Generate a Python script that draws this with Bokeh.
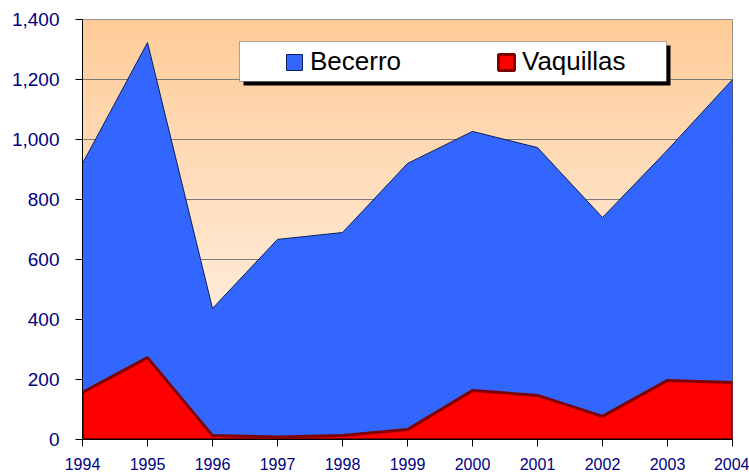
import numpy as np
from bokeh.plotting import figure
from bokeh.models import (FixedTicker, NumeralTickFormatter, Range1d, Legend, LegendItem,
                          BoxAnnotation)
from bokeh.embed import file_html
from bokeh.resources import INLINE

years = [1994, 1995, 1996, 1997, 1998, 1999, 2000, 2001, 2002, 2003, 2004]
becerro = [920, 1323, 437, 667, 690, 920, 1027, 973, 740, 965, 1200]
vaquillas = [157, 273, 13, 8, 13, 33, 163, 147, 77, 197, 190]
y_ticks = [0, 200, 400, 600, 800, 1000, 1200, 1400]

FONT = "Liberation Sans"
NAVY = "#000080"

p = figure(width=749, height=476, output_backend="svg", toolbar_location=None,
           x_range=Range1d(years[0], years[-1]), y_range=Range1d(0, 1400),
           min_border_left=82, min_border_right=17, min_border_top=19, min_border_bottom=37)
p.border_fill_color = "white"
p.outline_line_color = "#808080"
p.outline_line_width = 1

# gradient background (peach at top -> white at bottom)
n = 256
t = np.linspace(0, 1, n)[:, None]  # row 0 = bottom
top = np.array([255, 204, 153])
bot = np.array([255, 250, 245])
rgb = (bot + (top - bot) * t).astype(np.uint32)
img = np.zeros((n, 1), dtype=np.uint32)
view = img.view(dtype=np.uint8).reshape((n, 1, 4))
view[:, 0, 0] = rgb[:, 0]
view[:, 0, 1] = rgb[:, 1]
view[:, 0, 2] = rgb[:, 2]
view[:, 0, 3] = 255
bg = p.image_rgba(image=[img], x=years[0], y=0, dw=years[-1] - years[0], dh=1400)
bg.level = "image"

# areas
xs = list(years) + [years[-1], years[0]]
b = p.patch(xs, list(becerro) + [0, 0], fill_color="#3366FF", line_color="#0A1F5C", line_width=1)
v = p.patch(xs, list(vaquillas) + [0, 0], fill_color="#FF0000", line_color="#800000", line_width=3)

# axes
p.xaxis.ticker = FixedTicker(ticks=years)
p.yaxis.ticker = FixedTicker(ticks=y_ticks)
p.yaxis.formatter = NumeralTickFormatter(format="0,0")
for ax in (p.xaxis, p.yaxis):
    ax.axis_line_color = "black"
    ax.axis_line_width = 1
    ax.major_tick_line_color = "black"
    ax.major_tick_in = 0
    ax.major_tick_out = 7
    ax.minor_tick_line_color = None
    ax.major_label_text_font = FONT
    ax.major_label_text_color = NAVY
p.yaxis.major_label_text_font_size = "19px"
p.yaxis.major_label_standoff = 16
p.xaxis.major_label_text_font_size = "16px"
p.xaxis.major_label_standoff = 11

p.xgrid.grid_line_color = None
p.ygrid.grid_line_color = "#7a7a7a"
p.ygrid.grid_line_width = 1
p.ygrid.ticker = FixedTicker(ticks=y_ticks)

# legend box with shadow
px_per_year = 650 / 10.0
px_per_unit = 420 / 1400.0
def fx(px):
    return years[0] + px / px_per_year
def fy(py):
    return (420 - py) / px_per_unit
shadow = BoxAnnotation(left=fx(161), right=fx(588), top=fy(26), bottom=fy(66),
                       fill_color="black", fill_alpha=1, line_color=None, level="annotation")
box = BoxAnnotation(left=fx(157), right=fx(584), top=fy(22), bottom=fy(62),
                    fill_color="white", fill_alpha=1, line_color="black", line_width=1, level="annotation")
p.add_layout(shadow)
p.add_layout(box)

legend = Legend(items=[LegendItem(label="Becerro", renderers=[b]),
                       LegendItem(label="Vaquillas", renderers=[v])],
                orientation="horizontal", location=(202, 362),
                padding=0, margin=0, spacing=10,
                glyph_width=20, glyph_height=20, label_standoff=6, label_width=176,
                label_text_font=FONT, label_text_font_size="26px", label_text_color="black",
                background_fill_alpha=0, border_line_color=None)
p.add_layout(legend)

open("out.html", "w").write(file_html(p, INLINE))
